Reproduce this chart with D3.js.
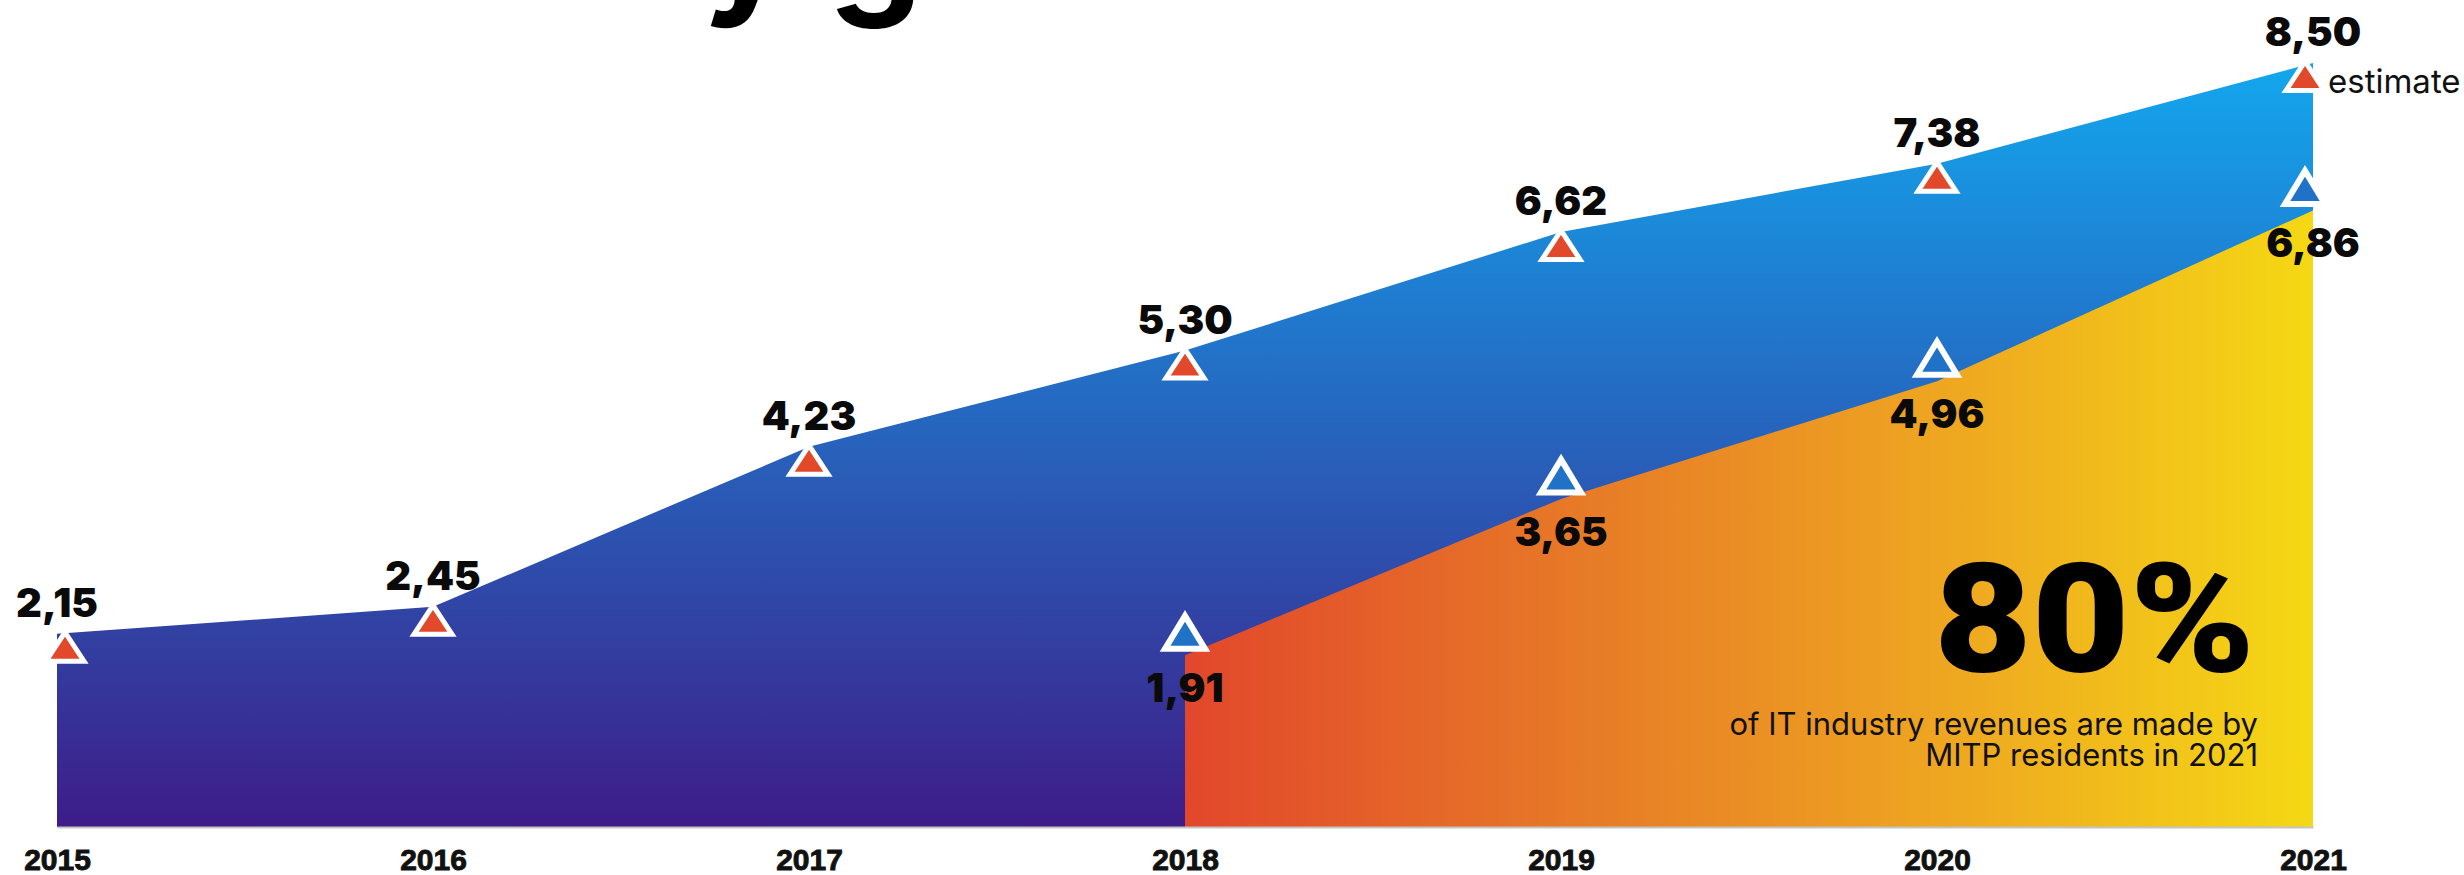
<!DOCTYPE html>
<html><head><meta charset="utf-8">
<script src="https://cdn.jsdelivr.net/npm/d3@7"></script>
<style>html,body{margin:0;padding:0;background:#fff;overflow:hidden}</style>
</head><body>
<svg id="c" width="2464" height="875"></svg>
<script>
// ---- data ----
const years = ["2015", "2016", "2017", "2018", "2019", "2020", "2021"];
const totalRevenue = [2.15, 2.45, 4.23, 5.30, 6.62, 7.38, 8.50];
const residentYears = ["2018", "2019", "2020", "2021"];
const residentRevenue = [1.91, 3.65, 4.96, 6.86];
const titleText = "IT industry growth";
const shareText = "80%";
const shareNote = ["of IT industry revenues are made by", "MITP residents in 2021"];
const estimateNote = "estimate";

const svg = d3.select("#c");
const fmt = v => d3.format(".2f")(v).replace(".", ",");

const totalData = years.map((yr, i) => ({year: yr, value: totalRevenue[i]}));
const resData = residentYears.map((yr, i) => ({year: yr, value: residentRevenue[i]}));

const x = d3.scalePoint().domain(years).range([57, 2313]);
const y = d3.scaleLinear().domain([0, 8.5]).range([827, 63]);
const xr = x.range();
const cx = yr => Math.max(xr[0] + 8, Math.min(xr[1] - 8, x(yr)));

const defs = svg.append("defs");
const gBlue = defs.append("linearGradient").attr("id", "gBlue")
  .attr("gradientUnits", "userSpaceOnUse")
  .attr("x1", 0).attr("x2", 0).attr("y1", y(8.5)).attr("y2", y(0));
[[0, "#13a7ee"], [0.38, "#2272c8"], [0.75, "#3240a2"], [1, "#3d1c88"]].forEach(s =>
  gBlue.append("stop").attr("offset", s[0]).attr("stop-color", s[1]));
const gOr = defs.append("linearGradient").attr("id", "gOr")
  .attr("gradientUnits", "userSpaceOnUse")
  .attr("x1", x("2018")).attr("x2", x("2021")).attr("y1", 0).attr("y2", 0);
[[0, "#e2472b"], [0.35, "#e77a27"], [0.7, "#efaa20"], [1, "#f5d814"]].forEach(s =>
  gOr.append("stop").attr("offset", s[0]).attr("stop-color", s[1]));

// title (cut off at top, as in the reference)
svg.append("text").attr("x", 0).attr("y", -3)
  .attr("font-family", "Inter, 'Noto Sans', sans-serif").attr("font-weight", 700)
  .attr("font-size", 150).attr("fill", "#000").text(titleText);

const area = d3.area().x(d => x(d.year)).y0(y(0)).y1(d => y(d.value));
svg.append("path").datum(totalData).attr("d", area).attr("fill", "url(#gBlue)");
svg.append("path").datum(resData).attr("d", area).attr("fill", "url(#gOr)");

// axis
const axis = svg.append("g").attr("transform", `translate(0,${y(0)})`)
  .call(d3.axisBottom(x).tickSize(0).tickSizeOuter(0));
axis.select(".domain").attr("stroke", "#c4c4c4").attr("stroke-width", 2);
axis.selectAll("text").attr("y", 43).attr("dy", 0)
  .attr("font-family", "'Liberation Sans', Arial, sans-serif").attr("font-weight", 700)
  .attr("font-size", 30).attr("fill", "#111").attr("stroke", "#111").attr("stroke-width", 0.9);

// triangles
const tri = (w, h) => `M0,${-h / 2}L${w / 2},${h / 2}L${-w / 2},${h / 2}Z`;
svg.append("g").selectAll("path").data(totalData).join("path")
  .attr("d", tri(38, 29))
  .attr("transform", d => `translate(${cx(d.year)},${y(d.value) + 13})`)
  .attr("fill", "#e2492a").attr("stroke", "#fff").attr("stroke-width", 5)
  .attr("stroke-linejoin", "miter");
svg.append("g").selectAll("path").data(resData).join("path")
  .attr("d", tri(40, 33))
  .attr("transform", d => `translate(${cx(d.year)},${y(d.value) - 23})`)
  .attr("fill", "#1f72c6").attr("stroke", "#fff").attr("stroke-width", 6)
  .attr("stroke-linejoin", "miter");

// value labels
const lblFont = "Inter, 'Noto Sans', sans-serif";
svg.append("g").selectAll("text").data(totalData).join("text")
  .attr("x", d => x(d.year)).attr("y", d => y(d.value) - 17)
  .attr("text-anchor", "middle").attr("font-family", lblFont).attr("font-weight", 900)
  .attr("font-size", 40).attr("fill", "#0a0a0a").text(d => fmt(d.value));
svg.append("g").selectAll("text").data(resData).join("text")
  .attr("x", d => x(d.year)).attr("y", d => y(d.value) + 47)
  .attr("text-anchor", "middle").attr("font-family", lblFont).attr("font-weight", 900)
  .attr("font-size", 40).attr("fill", "#0a0a0a").text(d => fmt(d.value));

// estimate note
const last = totalData[totalData.length - 1];
svg.append("text").attr("x", x(last.year) + 15).attr("y", y(last.value) + 30)
  .attr("font-family", "Inter, 'Noto Sans', sans-serif").attr("font-size", 33)
  .attr("fill", "#111").text(estimateNote);

// 80% annotation
svg.append("text").attr("x", 2255).attr("y", 672).attr("text-anchor", "end")
  .attr("font-family", "Roboto, Inter, sans-serif").attr("font-weight", 900)
  .attr("font-size", 153).attr("fill", "#000")
  .attr("textLength", 321).attr("lengthAdjust", "spacingAndGlyphs").text(shareText);
svg.append("g").selectAll("text").data(shareNote).join("text")
  .attr("x", 2258).attr("y", (d, i) => 735 + i * 31).attr("text-anchor", "end")
  .attr("font-family", "Inter, 'Noto Sans', sans-serif").attr("font-size", 31)
  .attr("fill", "#111").text(d => d);
</script>
</body></html>
